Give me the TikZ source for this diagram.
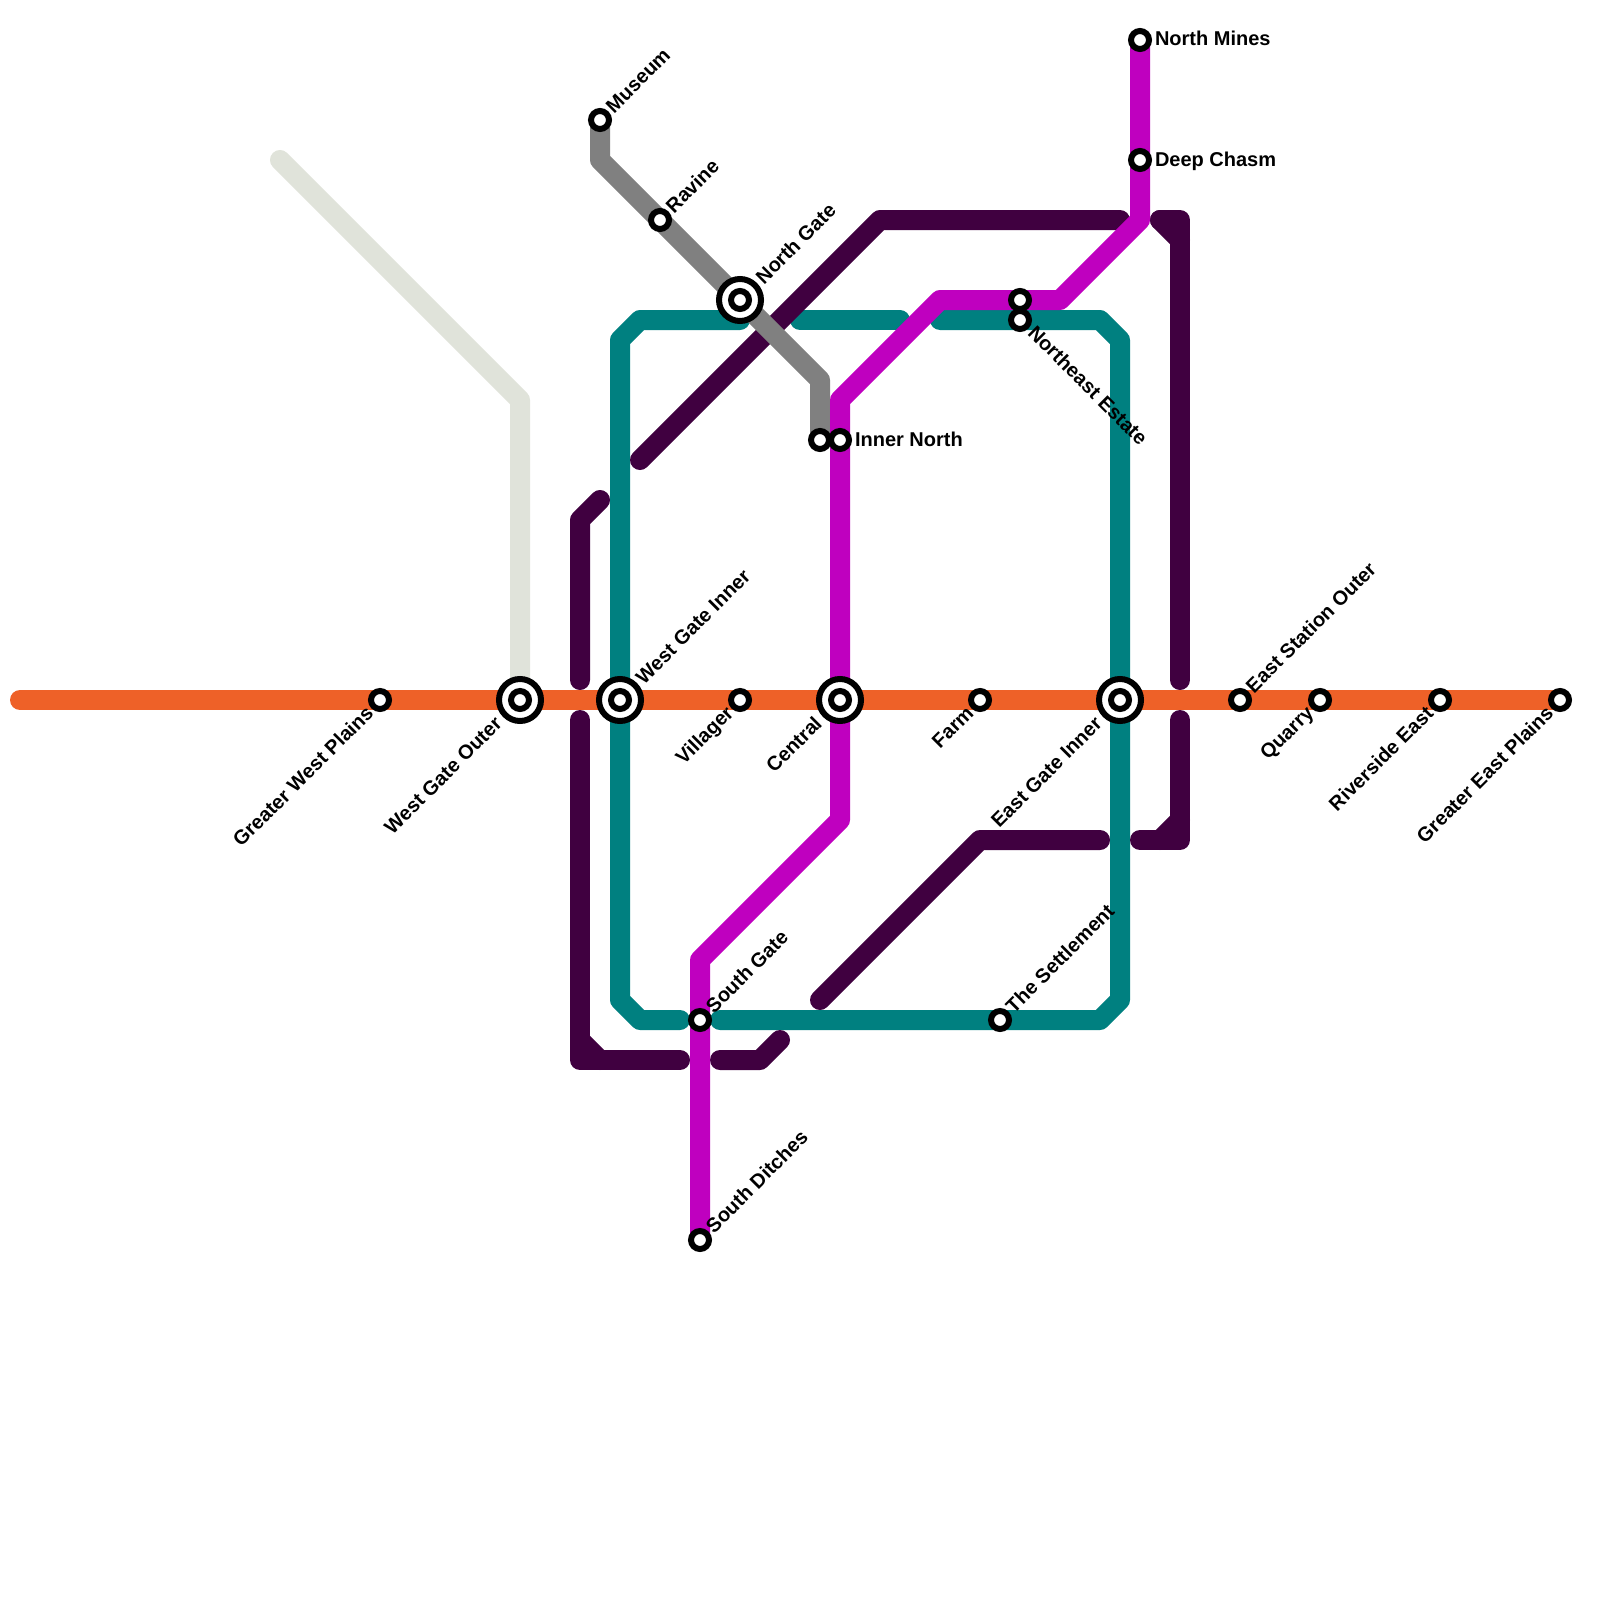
\documentclass[tikz,border=0pt]{standalone}
\usepackage{fontspec}
\setmainfont{Liberation Sans}
\usetikzlibrary{backgrounds}
\definecolor{cplum}{HTML}{400040}
\definecolor{cteal}{HTML}{008080}
\definecolor{cmag}{HTML}{BF00BF}
\definecolor{cgrey}{HTML}{808080}
\definecolor{corange}{HTML}{EE6128}
\definecolor{clight}{HTML}{E0E3DA}
\tikzset{
  metro/.style={line width=20pt,line cap=round,line join=round},
  stn/.style={circle,draw=black,fill=white,line width=6pt,minimum size=18pt,inner sep=0pt,outer sep=0pt},
  hub/.style={circle,draw=black,fill=white,line width=6pt,minimum size=42pt,inner sep=0pt,outer sep=0pt},
  lab/.style={font=\fontsize{20}{24}\selectfont\bfseries,inner sep=0pt,outer sep=0pt,text=black},
  lE/.style={lab,anchor=base west,xshift=15pt,yshift=-6pt},
  lNE/.style={lab,anchor=base west,xshift=14.1pt,yshift=5.9pt,rotate=45},
  lSW/.style={lab,anchor=base east,xshift=-5.4pt,yshift=-14.6pt,rotate=45},
  lSE/.style={lab,anchor=base west,xshift=6.9pt,yshift=-14.1pt,rotate=-45},
  lNEh/.style={lab,anchor=base west,xshift=24.1pt,yshift=14.9pt,rotate=45},
  lSWh/.style={lab,anchor=base east,xshift=-16.9pt,yshift=-25.1pt,rotate=45},
}
\begin{document}
\begin{tikzpicture}[x=1pt,y=-1pt]
\path[use as bounding box] (0,0) rectangle (1600,1600);
% stations
\node[stn] (gwp) at (380,700) {};
\node[hub] (wgo) at (520,700) {}; \node[stn] (wgoI) at (520,700) {};
\node[hub] (wgi) at (620,700) {}; \node[stn] (wgiI) at (620,700) {};
\node[stn] (vil) at (740,700) {};
\node[hub] (cen) at (840,700) {}; \node[stn] (cenI) at (840,700) {};
\node[stn] (farm) at (980,700) {};
\node[hub] (egi) at (1120,700) {}; \node[stn] (egiI) at (1120,700) {};
\node[stn] (eso) at (1240,700) {};
\node[stn] (qua) at (1320,700) {};
\node[stn] (riv) at (1440,700) {};
\node[stn] (gep) at (1560,700) {};
\node[stn] (mus) at (600,120) {};
\node[stn] (rav) at (660,220) {};
\node[hub] (ng) at (740,300) {}; \node[stn] (ngI) at (740,300) {};
\node[stn] (inG) at (820,440) {};
\node[stn] (inN) at (840,440) {};
\node[stn] (neT) at (1020,300) {};
\node[stn] (neE) at (1020,320) {};
\node[stn] (nm) at (1140,40) {};
\node[stn] (dc) at (1140,160) {};
\node[stn] (sg) at (700,1020) {};
\node[stn] (sd) at (700,1240) {};
\node[stn] (set) at (1000,1020) {};
% labels
\node[lSW] (Lgwp) at (gwp.center) {Greater West Plains};
\node[lSWh] (Lwgo) at (wgo.center) {West Gate Outer};
\node[lNEh] (Lwgi) at (wgi.center) {West Gate Inner};
\node[lSW] (Lvil) at (vil.center) {Villager};
\node[lSWh] (Lcen) at (cen.center) {Central};
\node[lSW] (Lfarm) at (farm.center) {Farm};
\node[lSWh] (Legi) at (egi.center) {East Gate Inner};
\node[lNE] (Leso) at (eso.center) {East Station Outer};
\node[lSW] (Lqua) at (qua.center) {Quarry};
\node[lSW] (Lriv) at (riv.center) {Riverside East};
\node[lSW] (Lgep) at (gep.center) {Greater East Plains};
\node[lNE] (Lmus) at (mus.center) {Museum};
\node[lNE] (Lrav) at (rav.center) {Ravine};
\node[lNEh] (Lng) at (ng.center) {North Gate};
\node[lE] (LinN) at (inN.center) {Inner North};
\node[lSE] (LneE) at (neE.center) {Northeast Estate};
\node[lE] (Lnm) at (nm.center) {North Mines};
\node[lE] (Ldc) at (dc.center) {Deep Chasm};
\node[lNE] (Lsg) at (sg.center) {South Gate};
\node[lNE] (Lsd) at (sd.center) {South Ditches};
\node[lNE] (Lset) at (set.center) {The Settlement};
% route waypoints
\coordinate (a1) at (280,160); \coordinate (a2) at (520,400);
\coordinate (o1) at (20,700);
\coordinate (t1) at (740,320); \coordinate (t2) at (640,320); \coordinate (t3) at (620,340);
\coordinate (t4) at (620,1000); \coordinate (t5) at (640,1020); \coordinate (t6) at (680,1020);
\coordinate (t7) at (720,1020); \coordinate (t8) at (1100,1020); \coordinate (t9) at (1120,1000);
\coordinate (t10) at (1120,340); \coordinate (t11) at (1100,320); \coordinate (t12) at (940,320);
\coordinate (t13) at (800,320); \coordinate (t14) at (900,320);
\coordinate (p1) at (640,460); \coordinate (p2) at (880,220); \coordinate (p3) at (1120,220);
\coordinate (p4) at (580,680); \coordinate (p5) at (580,520); \coordinate (p6) at (600,500);
\coordinate (p7) at (580,720); \coordinate (p8) at (580,1060); \coordinate (p9) at (680,1060);
\coordinate (p10) at (580,1040); \coordinate (p11) at (600,1060);
\coordinate (p12) at (720,1060); \coordinate (p13) at (760,1060); \coordinate (p14) at (780,1040);
\coordinate (p15) at (820,1000); \coordinate (p16) at (980,840); \coordinate (p17) at (1100,840);
\coordinate (p18) at (1140,840); \coordinate (p19) at (1180,840); \coordinate (p20) at (1180,720);
\coordinate (p21) at (1180,820); \coordinate (p22) at (1160,840);
\coordinate (p23) at (1160,220); \coordinate (p24) at (1180,220); \coordinate (p25) at (1180,680);
\coordinate (p26) at (1180,240);
\coordinate (g1) at (600,160); \coordinate (g2) at (820,380);
\coordinate (m1) at (1140,220); \coordinate (m2) at (1060,300); \coordinate (m3) at (940,300);
\coordinate (m4) at (840,400); \coordinate (m5) at (840,820); \coordinate (m6) at (700,960);
\begin{pgfonlayer}{background}
\fill[white] (0,0) rectangle (1600,1600);
\draw[metro,clight] (a1) -- (a2) -- (wgo.center);
\draw[metro,cteal] (t1) -- (t2) -- (t3) -- (wgi.center) -- (t4) -- (t5) -- (t6);
\draw[metro,cteal] (t7) -- (set.center) -- (t8) -- (t9) -- (egi.center) -- (t10) -- (t11) -- (neE.center) -- (t12);
\draw[metro,cteal] (t13) -- (t14);
\draw[metro,cplum] (p1) -- (p2) -- (p3);
\draw[metro,cplum] (p4) -- (p5) -- (p6);
\draw[metro,cplum] (p7) -- (p8) -- (p9);
\draw[metro,cplum] (p10) -- (p11);
\draw[metro,cplum] (p12) -- (p13) -- (p14);
\draw[metro,cplum] (p15) -- (p16) -- (p17);
\draw[metro,cplum] (p18) -- (p19) -- (p20);
\draw[metro,cplum] (p21) -- (p22);
\draw[metro,cplum] (p23) -- (p24) -- (p25);
\draw[metro,cplum] (p23) -- (p26);
\draw[metro,cgrey] (mus.center) -- (g1) -- (rav.center) -- (ng.center) -- (g2) -- (inG.center);
\draw[metro,cmag] (nm.center) -- (dc.center) -- (m1) -- (m2) -- (neT.center) -- (m3) -- (m4) -- (inN.center) -- (cen.center) -- (m5) -- (m6) -- (sg.center) -- (sd.center);
\draw[metro,corange] (o1) -- (gwp.center) -- (wgo.center) -- (wgi.center) -- (vil.center) -- (cen.center) -- (farm.center) -- (egi.center) -- (eso.center) -- (qua.center) -- (riv.center) -- (gep.center);
\end{pgfonlayer}
\end{tikzpicture}
\end{document}
